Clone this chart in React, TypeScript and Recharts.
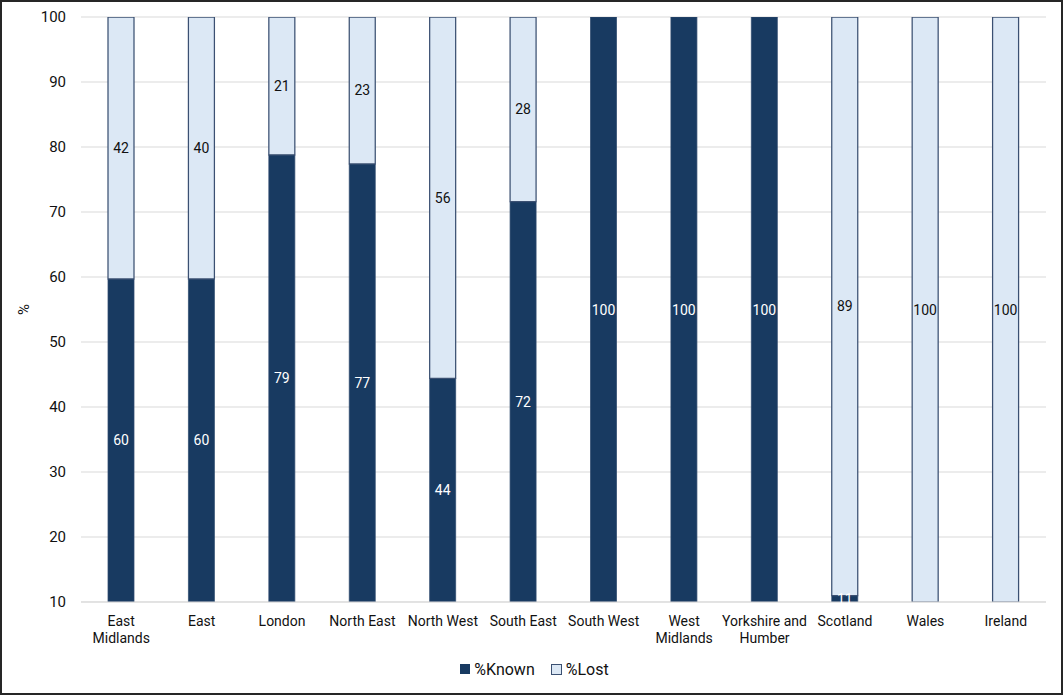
import React from 'react';
import {
  BarChart, Bar, XAxis, YAxis, CartesianGrid, Legend, LabelList,
} from 'recharts';

const categories = [
  'East Midlands', 'East', 'London', 'North East', 'North West', 'South East',
  'South West', 'West Midlands', 'Yorkshire and Humber', 'Scotland', 'Wales', 'Ireland',
];
// how each x tick label breaks across lines
const tickLines = [
  ['East', 'Midlands'], ['East'], ['London'], ['North East'], ['North West'], ['South East'],
  ['South West'], ['West', 'Midlands'], ['Yorkshire and', 'Humber'], ['Scotland'], ['Wales'], ['Ireland'],
];
const knownPct = [59.7, 59.7, 78.8, 77.4, 44.4, 71.6, 100, 100, 100, 11, 0, 0];
const lostPct = [42, 40.3, 21.2, 22.6, 55.6, 28.4, 0, 0, 0, 89, 100, 100];
const yTicks = [10, 20, 30, 40, 50, 60, 70, 80, 90, 100];

const W = 1063;
const H = 695;
const MARGIN = { top: 17, right: 17, bottom: 14, left: 20 };
const XAXIS_H = 55;
const LEGEND_H = 24;
const PLOT_TOP = MARGIN.top;
const PLOT_BOTTOM = H - MARGIN.bottom - XAXIS_H - LEGEND_H;

const KNOWN = '#183a61';
const LOST = '#dce8f5';
const LOST_EDGE = '#3b5072';
const TEXT = '#111111';
const FONT = 'Roboto, "Noto Sans", sans-serif';

const data = categories.map((name, i) => ({
  name,
  known: knownPct[i],
  lost: lostPct[i],
}));

// label centred on the part of the segment that is inside the plot
const segmentLabel = (color: string) => (props: any) => {
  const vb = props.viewBox ?? props;
  const { x, y, width, height } = vb;
  const value = props.value;
  if (!value) return null;
  const top = Math.max(y, PLOT_TOP);
  const bottom = Math.min(y + height, PLOT_BOTTOM);
  if (bottom <= top) return null;
  return (
    <text
      x={x + width / 2}
      y={(top + bottom) / 2}
      textAnchor="middle"
      dominantBaseline="central"
      fill={color}
      fontSize={14}
      fontFamily={FONT}
    >
      {Math.round(value)}
    </text>
  );
};

const CategoryTick = (props: any) => {
  const { x, y, payload } = props;
  const lines = tickLines[payload.index] ?? [payload.value];
  return (
    <text x={x} y={y + 16} textAnchor="middle" fill={TEXT} fontSize={14} fontFamily={FONT}>
      {lines.map((l: string, i: number) => (
        <tspan key={i} x={x} dy={i === 0 ? 0 : 17}>{l}</tspan>
      ))}
    </text>
  );
};

const LegendBox = () => (
  <div style={{
    display: 'flex', justifyContent: 'center', alignItems: 'center', gap: 16,
    height: LEGEND_H, fontFamily: FONT, fontSize: 16, color: TEXT, paddingLeft: 6,
  }}>
    <span style={{ display: 'flex', alignItems: 'center', gap: 4 }}>
      <span style={{ width: 10, height: 10, background: KNOWN, display: 'inline-block' }} />
      %Known
    </span>
    <span style={{ display: 'flex', alignItems: 'center', gap: 4 }}>
      <span style={{
        width: 9, height: 9, background: LOST, border: `1px solid ${LOST_EDGE}`, display: 'inline-block',
      }} />
      %Lost
    </span>
  </div>
);

export default function App() {
  return (
    <div style={{ position: 'absolute', left: 0, top: 0, width: W, height: H, background: '#fff' }}>
      <BarChart width={W} height={H} data={data} margin={MARGIN} barSize={26}>
        <CartesianGrid vertical={false} stroke="#d9d9d9" />
        <XAxis
          dataKey="name"
          height={XAXIS_H}
          axisLine={{ stroke: '#d9d9d9' }}
          tickLine={false}
          interval={0}
          tick={<CategoryTick />}
        />
        <YAxis
          width={61}
          domain={[10, 100]}
          ticks={yTicks}
          allowDataOverflow
          axisLine={false}
          tickLine={false}
          tickSize={0}
          tickMargin={15}
          tick={{ fontSize: 15, fill: TEXT, fontFamily: FONT }}
          label={{
            value: '%', angle: -90, position: 'insideLeft', offset: 4,
            style: { fontSize: 15, fill: TEXT, fontFamily: FONT, textAnchor: 'middle' },
          }}
        />
        <Legend
          verticalAlign="bottom"
          height={LEGEND_H}
          content={<LegendBox />}
          wrapperStyle={{ left: 0, width: W }}
        />
        <Bar dataKey="known" name="%Known" stackId="a" fill={KNOWN} stroke="#2d4a6e" strokeWidth={0.75} isAnimationActive={false}>
          <LabelList dataKey="known" content={segmentLabel('#ffffff')} />
        </Bar>
        <Bar dataKey="lost" name="%Lost" stackId="a" fill={LOST} stroke={LOST_EDGE} strokeWidth={1.25} isAnimationActive={false}>
          <LabelList dataKey="lost" content={segmentLabel(TEXT)} />
        </Bar>
      </BarChart>
      <div style={{
        position: 'absolute', left: 0, top: 0, width: W, height: H,
        boxSizing: 'border-box', border: '2px solid #262626', pointerEvents: 'none',
      }} />
    </div>
  );
}
